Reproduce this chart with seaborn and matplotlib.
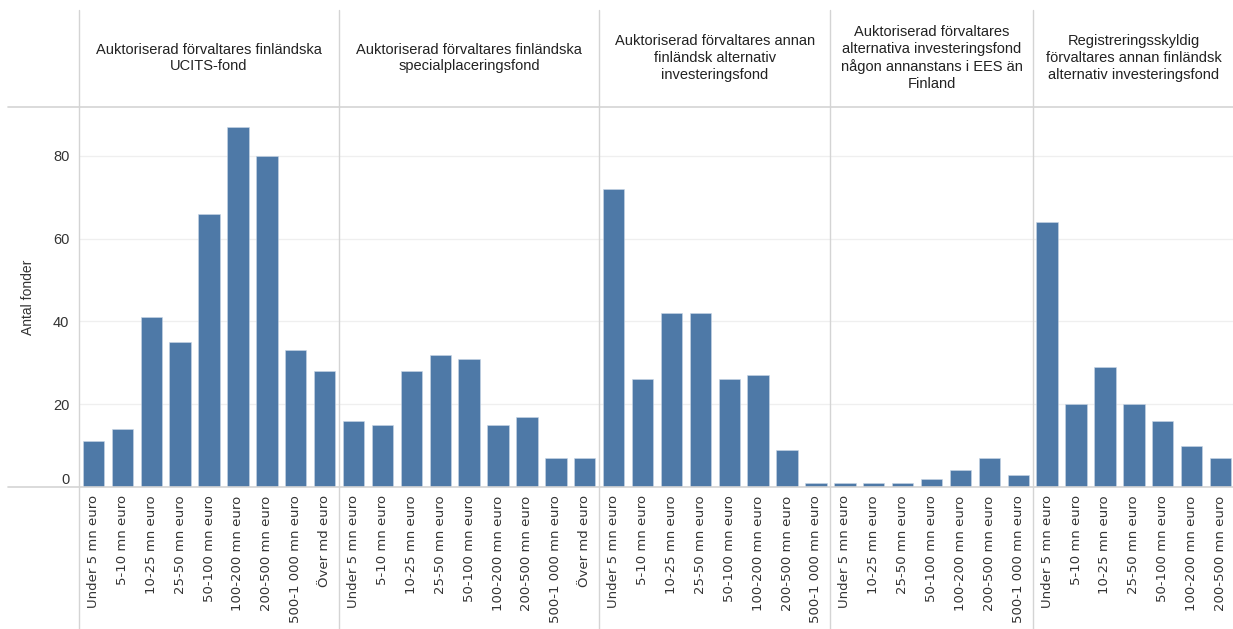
import numpy as np
import pandas as pd
import matplotlib
matplotlib.use('Agg')
import matplotlib.pyplot as plt
import seaborn as sns
from matplotlib.lines import Line2D

# Fund size classes (x categories)
size_classes = ['Under 5 mn euro', '5-10 mn euro', '10-25 mn euro', '25-50 mn euro',
                '50-100 mn euro', '100-200 mn euro', '200-500 mn euro',
                '500-1 000 mn euro', 'Över md euro']

# Panel headers
fund_types = [
    'Auktoriserad förvaltares finländska\nUCITS-fond',
    'Auktoriserad förvaltares finländska\nspecialplaceringsfond',
    'Auktoriserad förvaltares annan\nfinländsk alternativ\ninvesteringsfond',
    'Auktoriserad förvaltares\nalternativa investeringsfond\nnågon annanstans i EES än\nFinland',
    'Registreringsskyldig\nförvaltares annan finländsk\nalternativ investeringsfond',
]

# Categories present in each panel
cats_ucits = size_classes
cats_special = size_classes
cats_afi_fi = size_classes[:8]
cats_afi_ees = ['Under 5 mn euro', '10-25 mn euro', '25-50 mn euro', '50-100 mn euro',
                '100-200 mn euro', '200-500 mn euro', '500-1 000 mn euro']
cats_reg = size_classes[:7]

# Number of funds
n_ucits = [11, 14, 41, 35, 66, 87, 80, 33, 28]
n_special = [16, 15, 28, 32, 31, 15, 17, 7, 7]
n_afi_fi = [72, 26, 42, 42, 26, 27, 9, 1]
n_afi_ees = [1, 1, 1, 2, 4, 7, 3]
n_reg = [64, 20, 29, 20, 16, 10, 7]

panels = [
    (fund_types[0], cats_ucits, n_ucits),
    (fund_types[1], cats_special, n_special),
    (fund_types[2], cats_afi_fi, n_afi_fi),
    (fund_types[3], cats_afi_ees, n_afi_ees),
    (fund_types[4], cats_reg, n_reg),
]

sns.set_theme(style='white')
plt.rcParams['font.family'] = ['Liberation Sans', 'DejaVu Sans']

W, H = 1233, 629
fig = plt.figure(figsize=(W / 100, H / 100), dpi=100)

bar_color = '#4e79a7'
line_color = '#d4d4d4'
text_color = '#333333'

# pixel layout (Tableau-like)
x0 = 79
step = 28.9
top_px, base_px = 107, 487
ax_bottom = (H - base_px) / H
ax_height = (base_px - top_px) / H
ymax = (base_px - top_px) / 4.14

left = x0
for i, (title, cats, vals) in enumerate(panels):
    width_px = step * len(cats)
    ax = fig.add_axes([left / W, ax_bottom, width_px / W, ax_height])
    df = pd.DataFrame({'Storleksklass': cats, 'Antal fonder': vals})
    sns.barplot(data=df, x='Storleksklass', y='Antal fonder', order=cats,
                color=bar_color, saturation=1, width=0.74, ax=ax,
                edgecolor='#c9d6e6', linewidth=0.4)
    ax.set_xlim(-0.5, len(cats) - 0.5)
    ax.set_ylim(0, ymax)
    ax.set_yticks([0, 20, 40, 60, 80])
    for s in ax.spines.values():
        s.set_visible(False)
    ax.grid(axis='y', color='#efefef', linewidth=0.9)
    ax.set_axisbelow(True)
    ax.set_xlabel('')
    ax.set_xticks(range(len(cats)))
    ax.set_xticklabels(cats, rotation=90, fontsize=9.5, color=text_color,
                       family=['DejaVu Sans'], va='top')
    ax.set_xticks(np.arange(len(cats) + 1) - 0.5, minor=True)
    ax.tick_params(axis='x', which='major', length=0, pad=6)
    ax.tick_params(axis='x', which='minor', length=4, color='#e6e6e6', width=0.8)
    if i == 0:
        ax.set_ylabel('Antal fonder', fontsize=10, color=text_color)
        ax.yaxis.set_label_coords((35 - x0) / width_px, 0.5)
        ax.tick_params(axis='y', length=0, labelsize=10.5, labelcolor=text_color, pad=7)
        ax.get_yticklabels()[0].set_verticalalignment('bottom')
    else:
        ax.set_ylabel('')
        ax.tick_params(axis='y', length=0, labelleft=False)
    # panel header
    fig.text((left + width_px / 2) / W, 1 - 58 / H, title, ha='center', va='center',
             fontsize=10.5, color='#222222', linespacing=1.25)
    # separator line at panel left edge
    fig.add_artist(Line2D([left / W, left / W], [0, 1 - 10 / H],
                          color=line_color, linewidth=1))
    left += width_px

# horizontal rules: header bottom and baseline
for ypx in (top_px, base_px):
    fig.add_artist(Line2D([8 / W, 1], [1 - ypx / H, 1 - ypx / H],
                          color=line_color, linewidth=1.2))

fig.savefig('out.png', dpi=100, facecolor='white')
